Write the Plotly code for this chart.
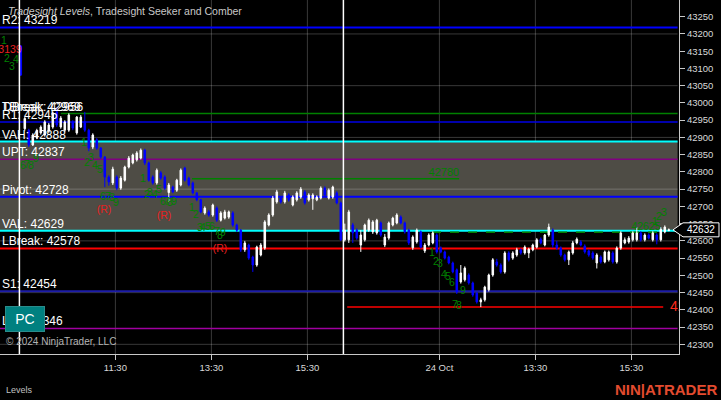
import plotly.graph_objects as go

# ---------------- data ----------------
bar_open = [43165, 42925, 42921, 42878, 42900, 42913, 42907, 42918, 42930, 42974,
            42930, 42921, 42921, 42945, 42913, 42930, 42945, 42921, 42872, 42893,
            42869, 42843, 42785, 42768, 42785, 42753, 42776, 42814, 42826, 42835,
            42840, 42863, 42826, 42785, 42768, 42797, 42785, 42740, 42756, 42747,
            42762, 42811, 42782, 42768, 42739, 42719, 42681, 42684, 42675, 42695,
            42660, 42666, 42669, 42681, 42646, 42631, 42574, 42588, 42553, 42530,
            42559, 42579, 42646, 42675, 42713, 42724, 42713, 42733, 42704, 42719,
            42727, 42742, 42719, 42722, 42719, 42724, 42753, 42724, 42727, 42739,
            42710, 42603, 42603, 42646, 42631, 42588, 42603, 42631, 42626, 42623,
            42652, 42588, 42608, 42646, 42652, 42669, 42652, 42631, 42580, 42597,
            42626, 42571, 42588, 42594, 42617, 42579, 42568, 42553, 42536, 42516,
            42481, 42487, 42501, 42478, 42449, 42423, 42429, 42458, 42501, 42539,
            42530, 42510, 42565, 42550, 42559, 42574, 42565, 42565, 42574, 42582,
            42605, 42588, 42617, 42631, 42588, 42579, 42559, 42545, 42565, 42594,
            42597, 42585, 42571, 42565, 42536, 42553, 42539, 42545, 42565, 42539,
            42579, 42594, 42597, 42603, 42603, 42623, 42603, 42617, 42603, 42617,
            42603, 42626, 42630]
bar_high = [43168, 42960, 42925, 42912, 42925, 42935, 42950, 42942, 42975, 42988,
            42962, 42950, 42970, 42950, 42962, 42965, 42974, 42925, 42912, 42898,
            42872, 42846, 42790, 42815, 42790, 42788, 42818, 42846, 42853, 42860,
            42868, 42867, 42830, 42790, 42810, 42802, 42790, 42768, 42760, 42780,
            42810, 42815, 42786, 42772, 42742, 42722, 42700, 42690, 42708, 42700,
            42686, 42690, 42688, 42686, 42650, 42634, 42600, 42592, 42557, 42586,
            42594, 42660, 42680, 42730, 42748, 42730, 42745, 42738, 42732, 42744,
            42756, 42747, 42738, 42738, 42732, 42758, 42758, 42752, 42760, 42744,
            42714, 42650, 42690, 42652, 42636, 42631, 42650, 42665, 42660, 42664,
            42656, 42620, 42656, 42670, 42680, 42674, 42656, 42635, 42616, 42636,
            42630, 42594, 42622, 42628, 42622, 42584, 42572, 42557, 42540, 42520,
            42530, 42526, 42506, 42482, 42452, 42435, 42470, 42505, 42550, 42548,
            42535, 42570, 42570, 42570, 42580, 42578, 42587, 42580, 42592, 42608,
            42610, 42620, 42650, 42636, 42600, 42584, 42563, 42572, 42600, 42610,
            42602, 42590, 42575, 42570, 42564, 42558, 42572, 42572, 42570, 42584,
            42628, 42610, 42614, 42628, 42640, 42628, 42622, 42622, 42628, 42622,
            42640, 42645, 42636]
bar_low = [43078, 42920, 42872, 42875, 42895, 42908, 42902, 42912, 42925, 42930,
           42925, 42916, 42916, 42921, 42908, 42927, 42916, 42860, 42866, 42864,
           42838, 42756, 42760, 42762, 42747, 42748, 42772, 42810, 42822, 42830,
           42836, 42820, 42772, 42763, 42763, 42777, 42748, 42713, 42738, 42742,
           42758, 42772, 42758, 42735, 42715, 42680, 42676, 42670, 42670, 42655,
           42656, 42662, 42664, 42641, 42626, 42568, 42568, 42545, 42510, 42525,
           42555, 42574, 42642, 42670, 42708, 42708, 42708, 42714, 42700, 42714,
           42722, 42705, 42714, 42690, 42715, 42720, 42728, 42720, 42722, 42706,
           42600, 42598, 42594, 42594, 42603, 42568, 42598, 42626, 42620, 42618,
           42612, 42582, 42603, 42642, 42648, 42648, 42621, 42588, 42574, 42592,
           42578, 42565, 42584, 42590, 42563, 42564, 42546, 42532, 42506, 42446,
           42476, 42482, 42473, 42438, 42418, 42408, 42424, 42453, 42496, 42525,
           42505, 42505, 42540, 42545, 42554, 42560, 42560, 42550, 42570, 42578,
           42590, 42584, 42612, 42580, 42574, 42554, 42540, 42530, 42560, 42590,
           42584, 42563, 42554, 42545, 42520, 42534, 42535, 42540, 42534, 42534,
           42574, 42590, 42592, 42598, 42598, 42598, 42598, 42604, 42598, 42590,
           42598, 42622, 42628]
bar_close = [43081, 42955, 42878, 42907, 42920, 42930, 42945, 42936, 42971, 42936,
             42956, 42945, 42965, 42927, 42959, 42959, 42921, 42869, 42907, 42869,
             42843, 42785, 42771, 42808, 42753, 42782, 42814, 42840, 42849, 42855,
             42863, 42826, 42776, 42768, 42805, 42782, 42753, 42762, 42742, 42776,
             42805, 42776, 42762, 42739, 42719, 42684, 42695, 42675, 42704, 42660,
             42681, 42684, 42684, 42646, 42631, 42574, 42594, 42550, 42530, 42582,
             42588, 42655, 42675, 42724, 42742, 42713, 42739, 42719, 42727, 42739,
             42750, 42710, 42733, 42733, 42727, 42753, 42733, 42747, 42756, 42710,
             42603, 42631, 42684, 42623, 42608, 42617, 42646, 42660, 42655, 42660,
             42617, 42611, 42652, 42666, 42675, 42652, 42626, 42594, 42611, 42631,
             42582, 42588, 42617, 42623, 42568, 42568, 42550, 42536, 42510, 42452,
             42507, 42521, 42478, 42443, 42423, 42429, 42466, 42501, 42545, 42530,
             42510, 42565, 42545, 42565, 42574, 42565, 42582, 42576, 42588, 42603,
             42594, 42617, 42640, 42588, 42579, 42559, 42545, 42568, 42594, 42605,
             42588, 42568, 42559, 42550, 42559, 42539, 42568, 42568, 42539, 42579,
             42623, 42603, 42608, 42623, 42623, 42603, 42617, 42608, 42623, 42603,
             42634, 42640, 42632]
bar_index = list(range(len(bar_close)))

# time axis (bar numbers of labelled bars)
tick_bars = [24, 48, 72, 105, 129, 153]
tick_labels = ["11:30", "13:30", "15:30", "24 Oct", "13:30", "15:30"]
session_start_bars = [0, 81]

# Tradesight levels
level_names = ["R2", "R1", "VAH", "UPT", "Pivot", "VAL", "LBreak", "S1", "LPT"]
level_values = [43219, 42945, 42888, 42837, 42728, 42629, 42578, 42454, 42346]
tbreak_value = 42969
dbreak_value = 42956
value_area = (42629, 42888)
grid_prices = [42300, 42450, 42600, 42750, 42900, 43050, 43200]

# Seeker / Comber marks: (bar position, price, text)
seeker_green = [
    (-4.2, 43177, "1"), (-3.45, 43127, "2"), (-2.2, 43104, "3"), (-1.2, 43122, "4"),
    (0.55, 42817, "6"), (1.55, 42820, "7"), (2.55, 42817, "8"), (3.8, 42837, "9"),
    (15.8, 42884, "1"), (16.55, 42826, "2"), (17.55, 42840, "3"), (18.55, 42817, "4"),
    (19.8, 42805, "5"), (20.55, 42727, "6"), (21.8, 42727, "7"), (22.8, 42724, "8"),
    (23.8, 42710, "9"),
    (30.55, 42779, "1"), (31.55, 42733, "2"), (32.3, 42739, "3"), (33.55, 42733, "4"),
    (34.55, 42747, "5"), (35.55, 42713, "6"), (36.55, 42713, "7"), (37.3, 42710, "8"),
    (38.3, 42713, "9"),
    (42.8, 42695, "1"), (43.8, 42675, "2"), (44.8, 42637, "3"), (45.55, 42637, "4"),
    (46.8, 42640, "5"), (47.8, 42640, "6"), (49.05, 42626, "7"), (49.8, 42614, "8"),
    (50.55, 42623, "9"),
    (102.8, 42565, "1"), (103.8, 42539, "2"), (104.8, 42533, "3"), (105.8, 42501, "4"),
    (106.8, 42495, "5"), (107.8, 42478, "6"), (108.55, 42414, "7"), (109.55, 42411, "8"),
    (110.55, 42455, "9"),
    (156.3, 42640, "42625"), (158.55, 42655, "1"), (159.55, 42669, "2"), (160.8, 42681, "3"),
]
seeker_red = [(-2.7, 43153, "3139"), (20.8, 42687, "(R)"), (35.8, 42672, "(R)"), (49.8, 42576, "(R)")]

# Comber target lines: (start bar, end bar, price)
target_line = (42.8, 109.6, 42780)
comber_dashed = (102.8, 159.8, 42625)
day_low_line = (81.6, 160.6, 42408)
tbreak_start_bar = 10
last_price = 42632

# ---------------- style ----------------
X0, X1 = -5.2, 164.55
LINE_END = 164.2
Y0, Y1 = 42272, 43298.4
level_colors = ["#0000ff", "#0000e6", "#00ffff", "#800080", "#0000ff", "#00ffff",
                "#ff0000", "#1c1ca8", "#a000a0"]
level_widths = [2, 1.5, 2, 1.5, 2, 2, 2, 2, 1.5]
GREEN = "#008000"
GRID = "rgba(255,255,255,0.22)"
FONT = "Liberation Sans, Arial, sans-serif"

fig = go.Figure()
fig.add_trace(go.Candlestick(
    x=bar_index, open=bar_open, high=bar_high, low=bar_low, close=bar_close,
    increasing=dict(line=dict(color="#ffffff", width=1), fillcolor="#ffffff"),
    decreasing=dict(line=dict(color="#0000ff", width=1), fillcolor="#0000ff"),
    whiskerwidth=0, hoverinfo="skip", showlegend=False))

fig.add_trace(go.Scatter(
    x=[p[0] for p in seeker_green], y=[p[1] for p in seeker_green],
    text=[p[2] for p in seeker_green], mode="text",
    textfont=dict(color=GREEN, size=10.5, family=FONT),
    hoverinfo="skip", showlegend=False, cliponaxis=False))
fig.add_trace(go.Scatter(
    x=[p[0] for p in seeker_red], y=[p[1] for p in seeker_red],
    text=[p[2] for p in seeker_red], mode="text",
    textfont=dict(color="#e82020", size=10.5, family=FONT),
    hoverinfo="skip", showlegend=False, cliponaxis=False))
fig.add_trace(go.Scatter(
    x=[target_line[1]], y=[target_line[2]],
    text=[str(target_line[2])], mode="text", textposition="top left",
    textfont=dict(color=GREEN, size=11, family=FONT),
    hoverinfo="skip", showlegend=False))
fig.add_trace(go.Scatter(
    x=[day_low_line[1] + 1.7], y=[day_low_line[2]], text=[str(day_low_line[2])],
    mode="text", textposition="middle right",
    textfont=dict(color="#ff2a1a", size=14, family=FONT),
    hoverinfo="skip", showlegend=False, cliponaxis=True))

shapes = []
shapes.append(dict(type="rect", xref="x", yref="y", x0=X0, x1=LINE_END,
                   y0=value_area[0], y1=value_area[1], fillcolor="#4e4c45",
                   line=dict(width=0), layer="below"))
for g in grid_prices:
    shapes.append(dict(type="line", xref="x", yref="y", x0=X0, x1=LINE_END, y0=g, y1=g,
                       line=dict(color=GRID, width=1), layer="below"))
for t in tick_bars:
    shapes.append(dict(type="line", xref="x", yref="paper", x0=t - 0.35, x1=t - 0.35,
                       y0=0, y1=1, line=dict(color=GRID, width=1), layer="below"))
for v, c, w in zip(level_values, level_colors, level_widths):
    shapes.append(dict(type="line", xref="x", yref="y", x0=X0, x1=LINE_END, y0=v, y1=v,
                       line=dict(color=c, width=w), layer="below"))
shapes.append(dict(type="line", xref="x", yref="y", x0=tbreak_start_bar, x1=LINE_END,
                   y0=tbreak_value, y1=tbreak_value, line=dict(color=GREEN, width=1.5), layer="below"))
shapes.append(dict(type="line", xref="x", yref="y", x0=target_line[0], x1=target_line[1],
                   y0=target_line[2], y1=target_line[2], line=dict(color=GREEN, width=1.5), layer="below"))
shapes.append(dict(type="line", xref="x", yref="y", x0=comber_dashed[0], x1=comber_dashed[1],
                   y0=comber_dashed[2], y1=comber_dashed[2],
                   line=dict(color=GREEN, width=1.5, dash="dash"), layer="below"))
shapes.append(dict(type="line", xref="x", yref="y", x0=day_low_line[0], x1=day_low_line[1],
                   y0=day_low_line[2], y1=day_low_line[2], line=dict(color="#ff0000", width=1.5), layer="below"))
for s in session_start_bars:
    shapes.append(dict(type="line", xref="x", yref="paper", x0=s - 0.35, x1=s - 0.35,
                       y0=0, y1=1, line=dict(color="#ffffff", width=1.5), layer="above"))
# last price marker
half = 20.3
shapes.append(dict(type="path", xref="paper", yref="y",
                   path=f"M 0.9912 {last_price} L 1.0059 {last_price + half} L 1.0589 {last_price + half} "
                        f"L 1.0589 {last_price - half} L 1.0059 {last_price - half} Z",
                   fillcolor="#000000", line=dict(color="#ffffff", width=1), layer="above"))

ann = []
for n, v in zip(level_names, level_values):
    ann.append(dict(x=0, xref="paper", y=v, yref="y", xanchor="left", yanchor="bottom",
                    text=f"{n}: {v}", showarrow=False, xshift=0, yshift=-2,
                    font=dict(color="#ffffff", size=12, family=FONT)))
ann.append(dict(x=0, xref="paper", y=tbreak_value, yref="y", xanchor="left", yanchor="bottom",
                text=f"TBreak: {tbreak_value}", showarrow=False, yshift=-2,
                font=dict(color="#ffffff", size=12, family=FONT)))
ann.append(dict(x=0, xref="paper", y=tbreak_value, yref="y", xanchor="left", yanchor="bottom",
                text=f"DBreak: {dbreak_value}", showarrow=False, xshift=1, yshift=-2,
                font=dict(color="#ffffff", size=12, family=FONT)))
ann.append(dict(x=6 / 679, xref="paper", y=1 - 11 / 354, yref="paper", xanchor="left", yanchor="middle",
                text="<i>Tradesight Levels</i>, Tradesight Seeker and Comber", showarrow=False,
                font=dict(color="#c8c8c8", size=10.5, family=FONT)))
# PC button (drawn over the LPT label)
ann.append(dict(x=25 / 679, xref="paper", y=1 - 319 / 354, yref="paper", xanchor="center", yanchor="middle",
                text="PC", showarrow=False, width=36, height=22, borderpad=1, borderwidth=1,
                bgcolor="#008080", bordercolor="#2a8c8c",
                font=dict(color="#ffffff", size=14, family=FONT)))
ann.append(dict(x=4 / 679, xref="paper", y=1 - 341 / 354, yref="paper", xanchor="left", yanchor="middle",
                text="© 2024 NinjaTrader, LLC", showarrow=False,
                font=dict(color="#b4b4b4", size=10, family=FONT)))
ann.append(dict(x=4 / 679, xref="paper", y=1 - 390 / 354, yref="paper", xanchor="left", yanchor="middle",
                text="Levels", showarrow=False, font=dict(color="#c0c0c0", size=9, family=FONT)))
ann.append(dict(x=719 / 679, xref="paper", y=1 - 389 / 354, yref="paper", xanchor="right", yanchor="middle",
                text="<b>NIN|ATRADER</b>", showarrow=False,
                font=dict(color="#e34b2f", size=15, family=FONT)))
ann.append(dict(x=701 / 679, xref="paper", y=last_price, yref="y", xanchor="center", yanchor="middle",
                text=str(last_price), showarrow=False, font=dict(color="#ffffff", size=10, family=FONT)))

fig.update_layout(
    width=721, height=400, margin=dict(l=0, r=42, t=0, b=46, autoexpand=False),
    paper_bgcolor="#000000", plot_bgcolor="#000000",
    boxgap=0.45, shapes=shapes, annotations=ann, showlegend=False,
    xaxis=dict(range=[X0, X1], showgrid=False, zeroline=False, rangeslider=dict(visible=False),
               tickmode="array", tickvals=[t - 0.35 for t in tick_bars], ticktext=tick_labels,
               ticks="outside", ticklen=5, tickcolor="#c8c8c8", showline=True,
               linecolor="#c8c8c8", linewidth=1,
               tickfont=dict(color="#d8d8d8", size=9.5, family=FONT), fixedrange=True),
    yaxis=dict(range=[Y0, Y1], side="right", showgrid=False, zeroline=False,
               tick0=42300, dtick=50, tickformat="d", ticks="outside", ticklen=5, tickcolor="#c8c8c8",
               showline=True, linecolor="#c8c8c8", linewidth=1,
               tickfont=dict(color="#d8d8d8", size=9.5, family=FONT), fixedrange=True),
)

fig.write_html("out.html", config={"displayModeBar": False},
               post_script="document.body.style.margin='0';document.body.style.background='#000';")
